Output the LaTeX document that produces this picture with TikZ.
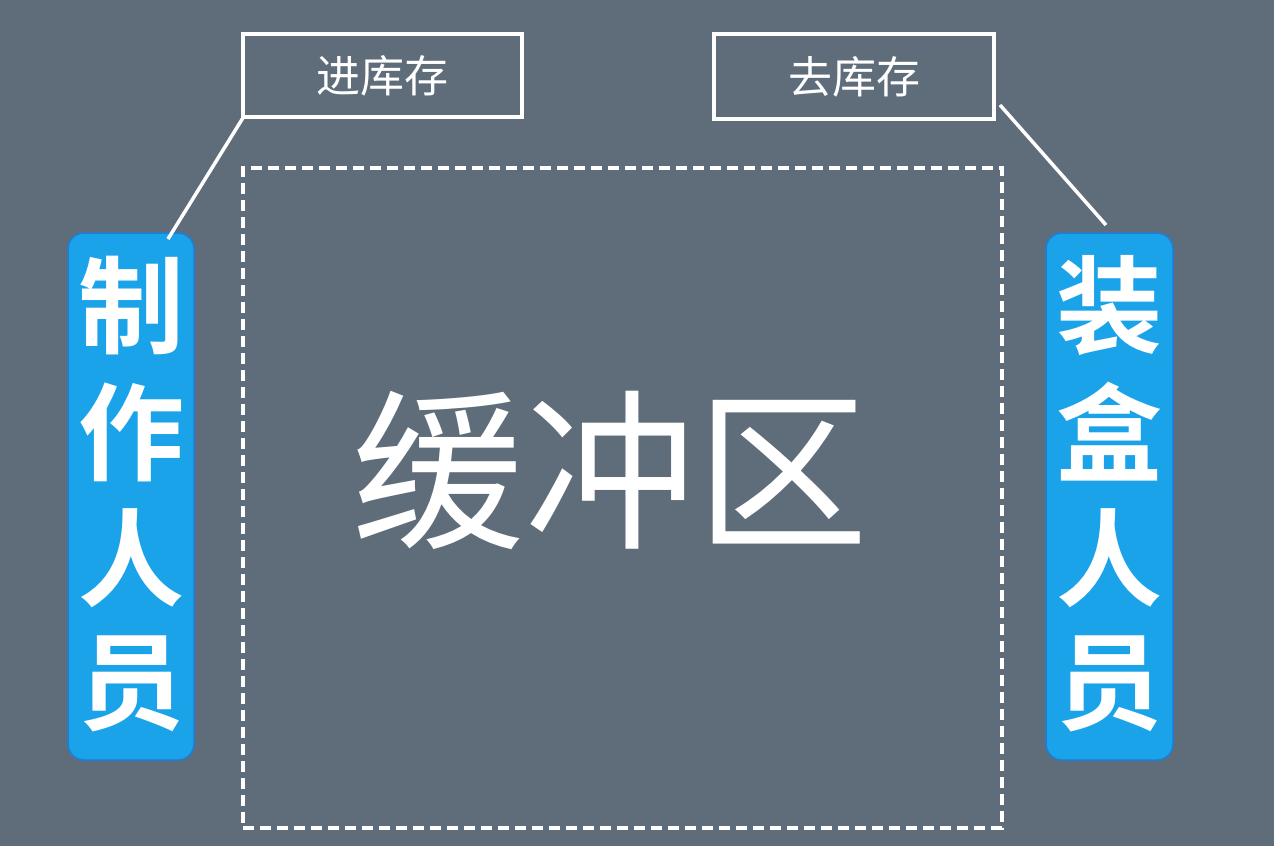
\documentclass[tikz,border=0pt]{standalone}
\usepackage{fontspec}
\newfontfamily\cjk{Noto Sans CJK SC}
\newfontfamily\cjkb{Noto Sans CJK SC Bold}
\definecolor{bg}{HTML}{5F6D7A}
\definecolor{bluefill}{HTML}{1BA3EA}
\definecolor{blueedge}{HTML}{1C7ED8}
\begin{document}
\begin{tikzpicture}[x=1pt,y=-1pt,
  labelbox/.style={draw=white,line width=3.5pt,inner sep=0pt,text=white,font=\cjk\fontsize{44}{48}\selectfont},
  rolebox/.style={draw=blueedge,fill=bluefill,line width=1.5pt,rounded corners=16pt,inner sep=0pt},
  roletext/.style={text=white,font=\cjkb\fontsize{106}{110}\selectfont,inner sep=0pt},
  link/.style={draw=white,line width=3.5pt}]
\fill[bg] (0,0) rectangle (1274,846);
\useasboundingbox (0,0) rectangle (1274,846);
\node[labelbox,minimum width=279pt,minimum height=83pt] (in) at (382.5,75.5) {进库存};
\node[labelbox,minimum width=280pt,minimum height=85pt] (out) at (854,76.5) {去库存};
\node[rolebox,minimum width=126pt,minimum height=527pt] (maker) at (131,496.5) {};
\node[rolebox,minimum width=127pt,minimum height=527pt] (packer) at (1109.5,496.5) {};
\foreach \c [count=\i] in {制,作,人,员}{
  \node[roletext] (m\i) at (131,180+\i*126) {\c};
}
\foreach \c [count=\i] in {装,盒,人,员}{
  \node[roletext] (p\i) at (1109.5,180+\i*126) {\c};
}
\node[draw=white,dash pattern=on 11pt off 6pt,line width=3.2pt,minimum width=759pt,minimum height=660pt,inner sep=0pt] (buffer) at (622.5,498) {};
\node[text=white,font=\cjk\fontsize{172}{180}\selectfont] (title) at (610,470) {缓冲区};
\coordinate (makertop) at (168,239);
\coordinate (outc) at (1000,105);
\coordinate (packtop) at (1106,225);
\draw[link] (in.south west) ++(3,-3) -- (makertop);
\draw[link] (outc) -- (packtop);
\end{tikzpicture}
\end{document}
